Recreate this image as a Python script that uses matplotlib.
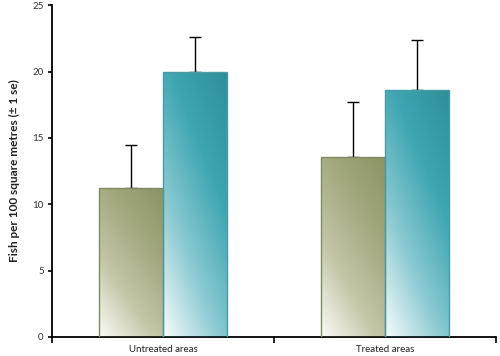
import numpy as np
import matplotlib.pyplot as plt
from matplotlib.colors import LinearSegmentedColormap

plt.rcParams['font.family'] = ['Lato', 'DejaVu Sans']

categories = ['Untreated areas', 'Treated areas']
series_a = [11.2, 13.55]     # green bars
series_b = [19.95, 18.6]     # teal bars
err_a = [3.25, 4.15]
err_b = [2.65, 3.75]

BAR_W = 0.288

green_cmap = LinearSegmentedColormap.from_list('g', ['#fbfbf6', '#c4c6a8', '#a4a97f', '#8b9465'])
teal_cmap = LinearSegmentedColormap.from_list('t', ['#f6fcfd', '#8ccad2', '#3ea6b2', '#2f8f99'])

fig = plt.figure(figsize=(5.0, 3.56), dpi=100)
ax = fig.add_axes([0.104, 0.0534, 0.888, 0.932])

x = np.arange(len(categories))

# diagonal gradient image, bottom-left light -> top-right dark
u, v = np.meshgrid(np.linspace(0, 1, 60), np.linspace(0, 1, 200))
grad = np.clip((0.6 * u + v) / 1.6, 0, 1)


def gradient_bars(xpos, heights, cmap, edge):
    bars = ax.bar(xpos, heights, width=BAR_W, facecolor='none',
                  edgecolor=edge, linewidth=1.0, zorder=3)
    for b in bars:
        x0, y0 = b.get_x(), b.get_y()
        w, h = b.get_width(), b.get_height()
        im = ax.imshow(grad, cmap=cmap, origin='lower', aspect='auto',
                       extent=[x0, x0 + w, y0, y0 + h], zorder=2,
                       interpolation='bilinear')
        im.set_clip_path(b)
    return bars


gradient_bars(x - BAR_W / 2, series_a, green_cmap, '#7f8a62')
gradient_bars(x + BAR_W / 2, series_b, teal_cmap, '#4a9ca4')

# upper error bars only; lower caps sit hidden behind the bars
ax.errorbar(x - BAR_W / 2, series_a, yerr=[np.zeros(2), err_a], fmt='none',
            ecolor='black', elinewidth=1.0, capsize=4.5, capthick=1.0, zorder=1.5)
ax.errorbar(x + BAR_W / 2, series_b, yerr=[np.zeros(2), err_b], fmt='none',
            ecolor='black', elinewidth=1.0, capsize=4.5, capthick=1.0, zorder=1.5)

ax.set_xlim(-0.5, 1.5)
ax.set_ylim(0, 25)
ax.set_yticks([0, 5, 10, 15, 20, 25])
ax.tick_params(axis='y', labelsize=7, length=3, width=1.2, direction='out',
               pad=3, labelcolor='#333333')

ax.set_xticks([-0.5, 0.5, 1.5])
ax.set_xticklabels([])
ax.set_xticks(x, minor=True)
ax.set_xticklabels(categories, minor=True, fontsize=7, color='#222222')
ax.tick_params(axis='x', which='major', length=4, width=1.2, direction='out')
ax.tick_params(axis='x', which='minor', length=0, pad=6)

for s in ['top', 'right']:
    ax.spines[s].set_visible(False)
for s in ['left', 'bottom']:
    ax.spines[s].set_linewidth(1.3)

ax.set_ylabel('Fish per 100 square metres (± 1 se)', fontsize=8.5,
              fontweight='bold', labelpad=9, color='#222222')

fig.savefig('out.png', dpi=100)
